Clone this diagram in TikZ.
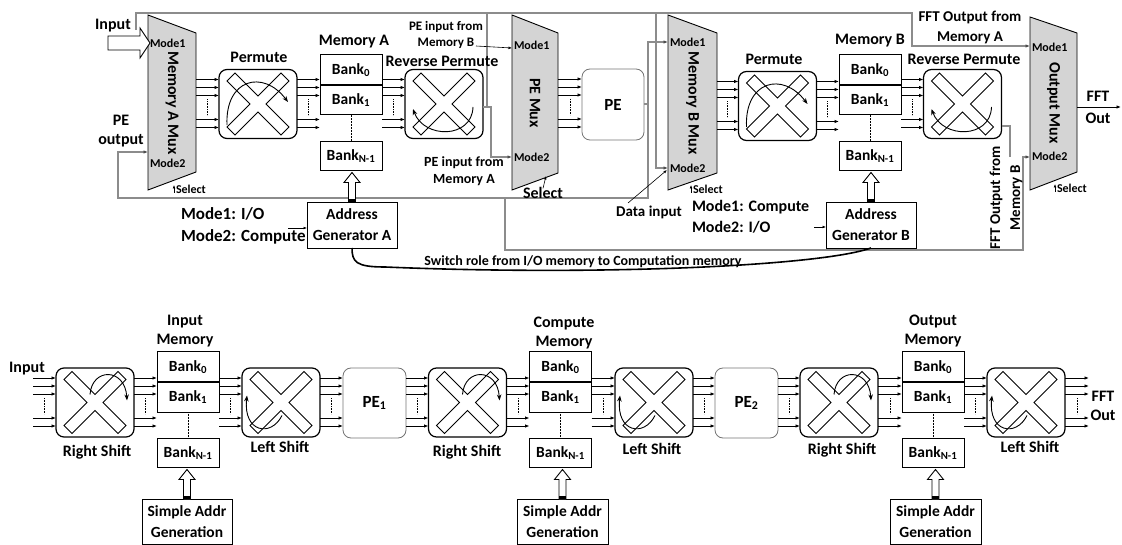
\documentclass[tikz,border=0pt]{standalone}
\usepackage{fontspec}
\setmainfont{Carlito}
\usetikzlibrary{arrows.meta,calc}

\tikzset{
  every node/.style={inner sep=0pt, outer sep=0pt},
  t12/.style={font=\fontsize{12}{13}\selectfont\bfseries},
  t13/.style={font=\fontsize{13}{16}\selectfont\bfseries},
  t14/.style={font=\fontsize{14}{17}\selectfont\bfseries},
  t15/.style={font=\fontsize{15}{20}\selectfont\bfseries},
  t16/.style={font=\fontsize{16}{19}\selectfont\bfseries},
  t17/.style={font=\fontsize{17}{24}\selectfont\bfseries},
  xbox/.style={draw, line width=1.2pt, rounded corners=8pt, minimum width=78pt, minimum height=69pt},
  pebox/.style={draw=black!55, line width=0.8pt, rounded corners=8pt, font=\fontsize{17}{20}\selectfont\bfseries},
  bank/.style={draw, line width=1pt, minimum width=62pt, minimum height=30pt, font=\fontsize{15.5}{16}\selectfont\bfseries},
  muxbody/.style={minimum width=48pt, minimum height=175pt},
  muxfill/.style={draw, line width=0.9pt, fill=black!17},
  agbox/.style={draw, line width=0.9pt, minimum width=90pt, minimum height=46pt, align=center, font=\fontsize{15.5}{21}\selectfont\bfseries},
  busarr/.style={-{Latex[length=4.5pt,width=3.5pt]}, line width=0.9pt},
  thinarr/.style={-{Latex[length=3.5pt,width=2.8pt]}, line width=0.6pt},
  wire/.style={draw=black!45, line width=1.1pt},
  wirearr/.style={wire, -{Latex[length=4.5pt,width=3.5pt,color=black!70]}},
  bendarr/.style={-{Stealth[length=6pt,width=4.5pt]}, line width=0.9pt},
  pics/xcross/.style={code={
    \draw[line width=1pt, fill=white] (23,31)--(31,23)--(8,0)--(31,-23)--(23,-31)--(0,-8)
      --(-23,-31)--(-31,-23)--(-8,0)--(-31,23)--(-23,31)--(0,8)--cycle;}},
  pics/permarc/.style={code={\draw[bendarr] (-31,21) .. controls (-33,-25) and (5,-35) .. (30,-2);}},
  pics/revarc/.style={code={\draw[bendarr] (29,3) .. controls (28,35) and (-20,35) .. (-31,5);}},
  pics/rsarc/.style={code={\draw[bendarr] (-5,-8) .. controls (-3,-35) and (30,-35) .. (32,-2);}},
  pics/lsarc/.style={code={\draw[bendarr] (1,13) .. controls (-10,35) and (-38,30) .. (-34,-7);}},
}

% crossbar box: name, centre, arc style
\newcommand\xbarbox[3]{%
  \node[xbox] (#1) at (#2) {};
  \pic at (#1.center) {xcross};
  \pic at (#1.center) {#3};}

% memory bank column: prefix, x, top of bank 0, centre of bank N-1
\newcommand\bankcol[4]{%
  \node[bank] (#1z) at (#2,#3+15) {Bank\textsubscript{0}};
  \node[bank] (#1o) at (#2,#3+45) {Bank\textsubscript{1}};
  \node[bank, minimum height=29pt] (#1n) at (#2,#4) {Bank\textsubscript{N-1}};
  \draw[line width=2pt] (#1z.south west) -- (#1z.south east);
  \draw[densely dotted, line width=0.5pt] (#1o.south) -- (#1n.north);}

% parallel bus: from, to, node giving the top reference
\newcommand\bus[3]{%
  \foreach \d in {10,18,26,50,58}{%
    \path ($(#3.north)+(0,\d)$) coordinate (bq);
    \draw[busarr] (#1.east |- bq) -- (#2.west |- bq);}
  \path ($(#3.north)+(0,30)$) coordinate (bq1) ($(#3.north)+(0,46)$) coordinate (bq2);
  \draw[densely dotted, line width=0.6pt]
    ($(#1.east |- bq1)!0.5!(#2.west |- bq1)$) -- ($(#1.east |- bq2)!0.5!(#2.west |- bq2)$);}

% multiplexer outline around an invisible body node
\newcommand\muxshape[3]{%
  \draw[muxfill] (#1.north west) -- ([yshift=-#2pt]#1.north east)
    -- ([yshift=#3pt]#1.south east) -- (#1.south west) -- cycle;}

% hollow address arrow from a generator up to a bank
\newcommand\addrarrow[2]{%
  \draw[line width=0.9pt, fill=white] let \p1=(#1.north), \p2=(#2.south) in
    (\x1-3.5pt,\y1) -- (\x1-3.5pt,\y2-12pt) -- (\x1-8pt,\y2-12pt) -- (\x1,\y2-2pt)
    -- (\x1+8pt,\y2-12pt) -- (\x1+3.5pt,\y2-12pt) -- (\x1+3.5pt,\y1);
  \fill let \p1=(#1.north) in (\x1-3.5pt,\y1) rectangle (\x1+3.5pt,\y1+3pt);}

\begin{document}
\begin{tikzpicture}[x=1pt,y=-1pt]
\useasboundingbox (0,0) rectangle (1122,545);

% ================= upper architecture =================
% multiplexer bodies
\node[muxbody] (mxA) at (172,102.5) {};
\node[muxbody, minimum width=46pt] (mxP) at (535,102.5) {};
\node[muxbody, minimum width=49pt] (mxB) at (692.5,102.5) {};
\node[muxbody, minimum width=47pt, minimum height=173pt] (mxO) at (1053.5,103.5) {};

% mux input points
\coordinate (mA1) at (148,43);  \coordinate (mA2) at (148,152);
\coordinate (mP1) at (512,48);  \coordinate (mP2) at (512,157);
\coordinate (mB1) at (668,42);  \coordinate (mB2) at (668,168);
\coordinate (mO1) at (1030,46); \coordinate (mO2) at (1030,157);

% datapath blocks
\node[xbox] (pmA) at (258,104) {};
\bankcol{A}{351}{55}{156}
\node[xbox] (rpA) at (444,104) {};
\node[pebox, minimum width=62pt, minimum height=71pt] (pe) at (613,104.5) {PE};
\node[xbox] (pmB) at (777.5,106) {};
\bankcol{B}{870}{55}{156}
\node[xbox] (rpB) at (962.5,104) {};
\node[agbox] (agA) at (352,225) {Address\\Generator A};
\node[agbox] (agB) at (871,225) {Address\\Generator B};

% gray routing
\draw[wirearr] (136,30) |- (912,13) |- (mO1);
\draw[wirearr] (rpA.east |- 0,107) -- (491,107) |- (mP2);
\draw[wire] (487,107) -- (487,13);
\draw[wirearr] (656,13) |- (mB2);
\draw[wirearr] (pe.east |- 0,104) -- (648,104) |- (mB1);
\draw[wirearr] (648,104) |- (118,198) |- (mA2);
\draw[wirearr] (505,198) |- (1023,250) |- (mO2);
\draw[wire] (rpB.east |- 0,126) -- (1010,126) -- (1010,157);

% multiplexers
\muxshape{mxA}{18}{18}
\muxshape{mxP}{18}{17}
\muxshape{mxB}{18}{17}
\muxshape{mxO}{16}{18}
\node[t16, rotate=-90] (mxAt) at (172,103) {Memory A Mux};
\node[t16, rotate=-90] (mxPt) at (535,103) {PE Mux};
\node[t16, rotate=-90] (mxBt) at (692.5,103) {Memory B Mux};
\node[t16, rotate=-90] (mxOt) at (1053.5,103) {Output Mux};

\node[t12, anchor=west] (mA1t) at (150,43) {Mode1};
\node[t12, anchor=west] (mA2t) at (150,163) {Mode2};
\node[t12, anchor=west] (mP1t) at (514,45) {Mode1};
\node[t12, anchor=west] (mP2t) at (514,157) {Mode2};
\node[t12, anchor=west] (mB1t) at (670,42) {Mode1};
\node[t12, anchor=west] (mB2t) at (670,168) {Mode2};
\node[t12, anchor=west] (mO1t) at (1032,47) {Mode1};
\node[t12, anchor=west] (mO2t) at (1032,156) {Mode2};

% select lines
\node[t12, anchor=west] (selA) at (176,189) {Select};
\draw[thinarr] (selA.west |- 0,193) ++(-2,0) coordinate (sA) -- ++(0,-8);
\node[t12, anchor=west] (selB) at (693,189) {Select};
\draw[thinarr] (selB.west |- 0,193) ++(-2,0) coordinate (sB) -- ++(0,-8);
\node[t12, anchor=west] (selO) at (1057,188) {Select};
\draw[thinarr] (selO.west |- 0,192) ++(-2,0) coordinate (sO) -- ++(0,-8);
\node[t16] (selP) at (543,193) {Select};
\draw[thinarr] (selP.north) ++(0,1) -- (546,176);

% crossbars
\pic at (pmA.center) {xcross}; \pic at (pmA.center) {permarc};
\pic at (rpA.center) {xcross}; \pic at (rpA.center) {revarc};
\pic at (pmB.center) {xcross}; \pic at (pmB.center) {permarc};
\pic at (rpB.center) {xcross}; \pic at (rpB.center) {revarc};

% buses
\bus{mxA}{pmA}{pmA}
\bus{pmA}{Az}{pmA}
\bus{Az}{rpA}{rpA}
\bus{mxP}{pe}{pe}
\bus{mxB}{pmB}{pmB}
\bus{pmB}{Bz}{pmB}
\bus{Bz}{rpB}{rpB}

% data input arrow
\coordinate (inS) at (108,43);
\draw[line width=0.9pt, fill=white] let \p1=(inS), \p2=(mA1) in
  (\x1,\y1+7pt) -- (\x2-8pt,\y1+7pt) -- (\x2-8pt,\y1+15pt) -- (\x2+2pt,\y1)
  -- (\x2-8pt,\y1-15pt) -- (\x2-8pt,\y1-7pt) -- (\x1,\y1-7pt) -- cycle;
\coordinate (fftE) at (1121,107);
\draw[busarr] (mxO.east |- fftE) -- (fftE);

% address generators
\addrarrow{agA}{An}
\addrarrow{agB}{Bn}
\coordinate (modeA) at (288,228);
\draw[thinarr] (modeA) -- (agA.west |- modeA);
\coordinate (modeB) at (814,227);
\draw[thinarr] (modeB) -- (agB.west |- modeB);
\draw[line width=1.6pt] (agA.south) .. controls (352,262) and (356,267) .. (385,267)
  .. controls (600,276) and (820,266) .. (agB.south);

% labels
\node[t16] (lIn) at (113,26) {Input};
\node[t16, align=center] (lPEo) at (121,131) {PE\\output};
\node[t16] (lPmA) at (259,57) {Permute};
\node[t16] (lMemA) at (354,42) {Memory A};
\node[t16] (lRpA) at (442,61) {Reverse Permute};
\node[t13, align=center] (lPinB) at (446,35) {PE input from\\Memory B};
\coordinate (pinB) at (476,46);
\draw[thinarr] (pinB) -- (mP1);
\node[t14, align=center] (lPinA) at (464,171) {PE input from\\Memory A};
\node[t15] (lData) at (649,212) {Data input};
\coordinate (dataS) at (628,203);
\draw[thinarr] (dataS) -- (667,170);
\node[t16, anchor=west] (lM1c) at (692,207) {Mode1: Compute};
\node[t16, anchor=west] (lM2c) at (692,227) {Mode2: I/O};
\node[t17, anchor=west] (lM1a) at (181,214) {Mode1: I/O};
\node[t17, anchor=west] (lM2a) at (181,237) {Mode2: Compute};
\node[t16] (lPmB) at (774,59) {Permute};
\node[t16] (lMemB) at (870,41) {Memory B};
\node[t16] (lRpB) at (964,59) {Reverse Permute};
\node[t15, align=center] (lFftA) at (970,27) {FFT Output from\\Memory A};
\node[t15, align=center, rotate=90] (lFftB) at (1006,198) {FFT Output from\\Memory B};
\node[t16, align=center] (lFftO) at (1098,107) {FFT\\[3pt]Out};
\node[t14] (lSwitch) at (583,262) {Switch role from I/O memory to Computation memory};

% ================= lower architecture =================
\coordinate (inL) at (33,402);
\xbarbox{rs1}{95,402.5}{rsarc}
\bankcol{I}{188}{352}{453}
\xbarbox{ls1}{281,402.5}{lsarc}
\node[pebox, minimum width=63pt, minimum height=70pt] (pe1) at (374.5,403) {PE\textsubscript{1}};
\xbarbox{rs2}{467.5,402.5}{rsarc}
\bankcol{C}{560.5}{352}{453}
\xbarbox{ls2}{654,402.5}{lsarc}
\node[pebox, minimum width=63pt, minimum height=70pt] (pe2) at (746.5,403) {PE\textsubscript{2}};
\xbarbox{rs3}{839,402.5}{rsarc}
\bankcol{O}{933}{352}{453}
\xbarbox{ls3}{1026,402.5}{lsarc}
\coordinate (outR) at (1089,402);

\bus{inL}{rs1}{rs1}
\bus{rs1}{Iz}{rs1}
\bus{Iz}{ls1}{ls1}
\bus{ls1}{pe1}{ls1}
\bus{pe1}{rs2}{rs2}
\bus{rs2}{Cz}{rs2}
\bus{Cz}{ls2}{ls2}
\bus{ls2}{pe2}{ls2}
\bus{pe2}{rs3}{rs3}
\bus{rs3}{Oz}{rs3}
\bus{Oz}{ls3}{ls3}
\bus{ls3}{outR}{ls3}

\node[agbox, minimum height=45pt] (sg1) at (187,521.5) {Simple Addr\\Generation};
\node[agbox, minimum height=45pt, minimum width=91pt] (sg2) at (562.5,521.5) {Simple Addr\\Generation};
\node[agbox, minimum height=45pt, minimum width=91pt] (sg3) at (935.5,521.5) {Simple Addr\\Generation};
\addrarrow{sg1}{In}
\addrarrow{sg2}{Cn}
\addrarrow{sg3}{On}

\node[t16] (bIn) at (27,369) {Input};
\node[t16, align=center] (bMemI) at (185,331) {Input\\Memory};
\node[t16, align=center] (bMemC) at (564,333) {Compute\\Memory};
\node[t16, align=center] (bMemO) at (933,331) {Output\\Memory};
\node[t16] (bRs1) at (97,452) {Right Shift};
\node[t16] (bLs1) at (280,447) {Left Shift};
\node[t16] (bRs2) at (467,452) {Right Shift};
\node[t16] (bLs2) at (652,449) {Left Shift};
\node[t16] (bRs3) at (842,450) {Right Shift};
\node[t16] (bLs3) at (1030,447) {Left Shift};
\node[t16, align=center] (bFft) at (1103,406) {FFT\\Out};
\end{tikzpicture}
\end{document}
